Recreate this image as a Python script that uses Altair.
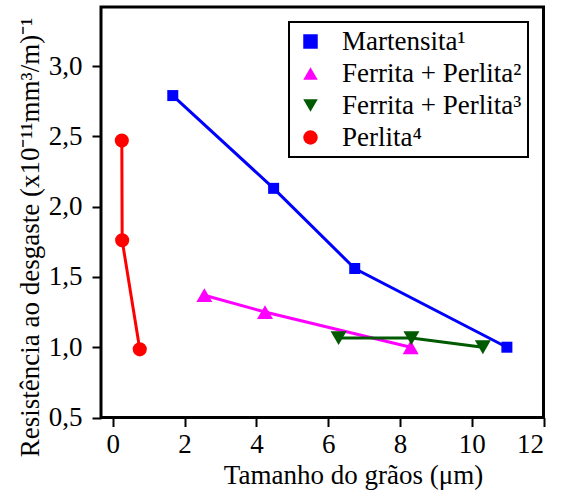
import altair as alt
import pandas as pd

# ---- data ----
series_names = ["Martensita¹", "Ferrita + Perlita²", "Ferrita + Perlita³", "Perlita⁴"]
series_colors = ["#0000FF", "#FF00FF", "#005A00", "#FF0000"]
series_shapes = ["square", "triangle-up", "triangle-down", "circle"]
series_sizes = [121, 256, 256, 200]

mart_x = [1.67, 4.48, 6.74, 10.98]
mart_y = [2.79, 2.13, 1.56, 1.00]
fp2_x = [2.55, 4.24, 8.30]
fp2_y = [1.37, 1.25, 1.00]
fp3_x = [6.29, 8.32, 10.31]
fp3_y = [1.065, 1.065, 1.00]
per_x = [0.25, 0.26, 0.75]
per_y = [2.47, 1.76, 0.985]

x_ticks = [0, 2, 4, 6, 8, 10, 12]
y_ticks = [0.5, 1.0, 1.5, 2.0, 2.5, 3.0]

rows = []
for name, col, size, xs, ys in zip(series_names, series_colors, series_sizes,
                                   [mart_x, fp2_x, fp3_x, per_x],
                                   [mart_y, fp2_y, fp3_y, per_y]):
    for i, (xv, yv) in enumerate(zip(xs, ys)):
        rows.append({"series": name, "col": col, "sz": size, "idx": i, "x": xv, "y": yv})
df = pd.DataFrame(rows)

FONT = "Liberation Serif"
FS = 27

xscale = alt.Scale(domain=[-0.33, 12], nice=False, zero=False)
yscale = alt.Scale(domain=[0.5, 3.42], nice=False, zero=False)

xaxis = alt.Axis(values=x_ticks, title="Tamanho do grãos (μm)", grid=False, domain=False,
                 tickSize=9, tickWidth=2, tickColor="black", labelPadding=5,
                 labelFont=FONT, labelFontSize=FS, labelColor="black",
                 titleFont=FONT, titleFontSize=FS, titleFontWeight="normal", titleColor="black",
                 titleX=252, titleY=66, titleBaseline="alphabetic", titleAnchor="start",
                 titleAlign="center")
yaxis = alt.Axis(values=y_ticks, title="Resistência ao desgaste (x10⁻¹¹mm³/m)⁻¹", grid=False,
                 domain=False, tickSize=9, tickWidth=2, tickColor="black", labelPadding=10,
                 labelFont=FONT, labelFontSize=FS, labelColor="black",
                 labelExpr="replace(format(datum.value, '.1f'), '.', ',')",
                 titleFont=FONT, titleFontSize=FS, titleFontWeight="normal", titleColor="black",
                 titleX=-71, titleY=230, titleAngle=-90, titleAlign="center",
                 titleBaseline="middle")

base = alt.Chart(df)

lines = base.mark_line(strokeWidth=3).encode(
    x=alt.X("x:Q", scale=xscale, axis=xaxis),
    y=alt.Y("y:Q", scale=yscale, axis=yaxis),
    color=alt.Color("col:N", scale=None),
    detail="series:N",
    order="idx:Q",
)

points = base.mark_point(filled=True, opacity=1).encode(
    x=alt.X("x:Q", scale=xscale),
    y=alt.Y("y:Q", scale=yscale),
    color=alt.Color("series:N", scale=alt.Scale(domain=series_names, range=series_colors),
                    legend=alt.Legend(title=None, orient="none", legendX=188, legendY=15,
                                      strokeColor="black", fillColor="white",
                                      padding=6, labelFont=FONT, labelFontSize=FS,
                                      labelColor="black", labelLimit=400, symbolSize=210,
                                      symbolOffset=2, labelOffset=18, rowPadding=4,
                                      symbolStrokeWidth=0,
                                      labelExpr="datum.label + '\u2002\u2002\u2002'")),
    shape=alt.Shape("series:N", scale=alt.Scale(domain=series_names, range=series_shapes)),
    size=alt.Size("sz:Q", scale=None, legend=None),
)

chart = alt.layer(lines, points).properties(
    width=442.5, height=410.5,
    autosize=alt.AutoSizeParams(type="none"),
    padding={"left": 101, "top": 7, "right": 17.5, "bottom": 75.5},
    background="white",
).configure(font=FONT).configure_view(stroke="black", strokeWidth=3).configure_legend(
    strokeWidth=2, labelFont=FONT)

chart.save("out.html", embed_options={"renderer": "svg", "actions": False})
